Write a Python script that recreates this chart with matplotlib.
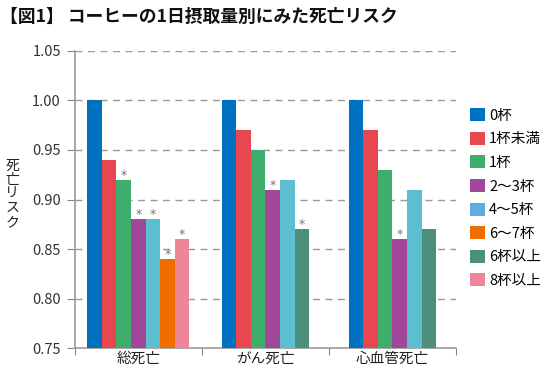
import numpy as np
import matplotlib.pyplot as plt
from matplotlib.patches import Patch

plt.rcParams['font.family'] = ['Noto Sans CJK JP', 'DejaVu Sans']

groups = ['総死亡', 'がん死亡', '心血管死亡']
series = ['0杯', '1杯未満', '1杯', '2〜3杯', '4〜5杯', '6〜7杯', '6杯以上', '8杯以上']
colors = ['#0071C1', '#E8474F', '#3DAE6B', '#A0479A', '#5BBFCF', '#EE6F00', '#4E8E7E', '#EE8699']
legend_colors = ['#0071C1', '#E8474F', '#3DAE6B', '#A0479A', '#62ADE0', '#EE6F00', '#4E8E7E', '#EE8699']

# values per group (None = not shown), and significance marks
values = [
    [1.00, 0.94, 0.92, 0.88, 0.88, 0.84, None, 0.86],
    [1.00, 0.97, 0.95, 0.91, 0.92, None, 0.87, None],
    [1.00, 0.97, 0.93, 0.86, 0.91, None, 0.87, None],
]
signif = [
    [False, False, True, True, True, True, False, True],
    [False, False, False, True, False, False, True, False],
    [False, False, False, True, False, False, False, False],
]

fig = plt.figure(figsize=(5.5, 3.8), dpi=100)
ax = fig.add_axes([0.136, 0.084, 0.693, 0.782])

base = 0.75
w = 0.115
for gi, vals in enumerate(values):
    idx = [i for i, v in enumerate(vals) if v is not None]
    n = len(idx)
    for k, i in enumerate(idx):
        x = gi + (k - (n - 1) / 2) * w
        ax.bar(x, vals[i] - base, w, bottom=base, color=colors[i], zorder=3)
        if signif[gi][i]:
            ax.text(x, vals[i] - 0.002, '*', ha='center', va='bottom',
                    fontsize=9, color='#777777', family='DejaVu Sans')

ax.set_ylim(0.75, 1.05)
ax.set_xlim(-0.5, 2.5)
ax.set_yticks(np.arange(0.75, 1.051, 0.05))
ax.set_yticklabels(['%.2f' % t for t in np.arange(0.75, 1.051, 0.05)], fontsize=10.5, color='#333333')
for y in np.arange(0.80, 1.051, 0.05):
    ax.axhline(y, color='#999999', lw=1, ls=(0, (5, 4)), zorder=1)

ax.set_xticks([-0.5, 0.5, 1.5, 2.5], minor=False)
ax.set_xticklabels([])
ax.set_xticks([0, 1, 2], minor=True)
ax.set_xticklabels(groups, minor=True, fontsize=10.5, color='#222222')
ax.tick_params(axis='x', which='minor', length=0, pad=3)
ax.tick_params(axis='x', which='major', length=5, color='#888888', direction='out')
ax.tick_params(axis='y', length=6, color='#888888', pad=4)

for s in ['top', 'right']:
    ax.spines[s].set_visible(False)
for s in ['left', 'bottom']:
    ax.spines[s].set_color('#999999')
    ax.spines[s].set_linewidth(1.2)

fig.text(0.022, 0.49, '\n'.join('死亡リスク'), ha='center', va='center',
         fontsize=10, color='#222222', linespacing=1.0)

fig.text(0.0, 0.955, '【図1】 コーヒーの1日摂取量別にみた死亡リスク',
         fontsize=12.8, fontweight='bold', ha='left', va='center', color='#111111')

handles = [Patch(facecolor=c, edgecolor='none') for c in legend_colors]
fig.legend(handles, series, loc='upper left', bbox_to_anchor=(0.855, 0.715),
           frameon=False, fontsize=10.5, handlelength=1.0, handleheight=1.0,
           handletextpad=0.3, labelspacing=0.62, borderaxespad=0, borderpad=0)

fig.savefig('out.png', dpi=100)
